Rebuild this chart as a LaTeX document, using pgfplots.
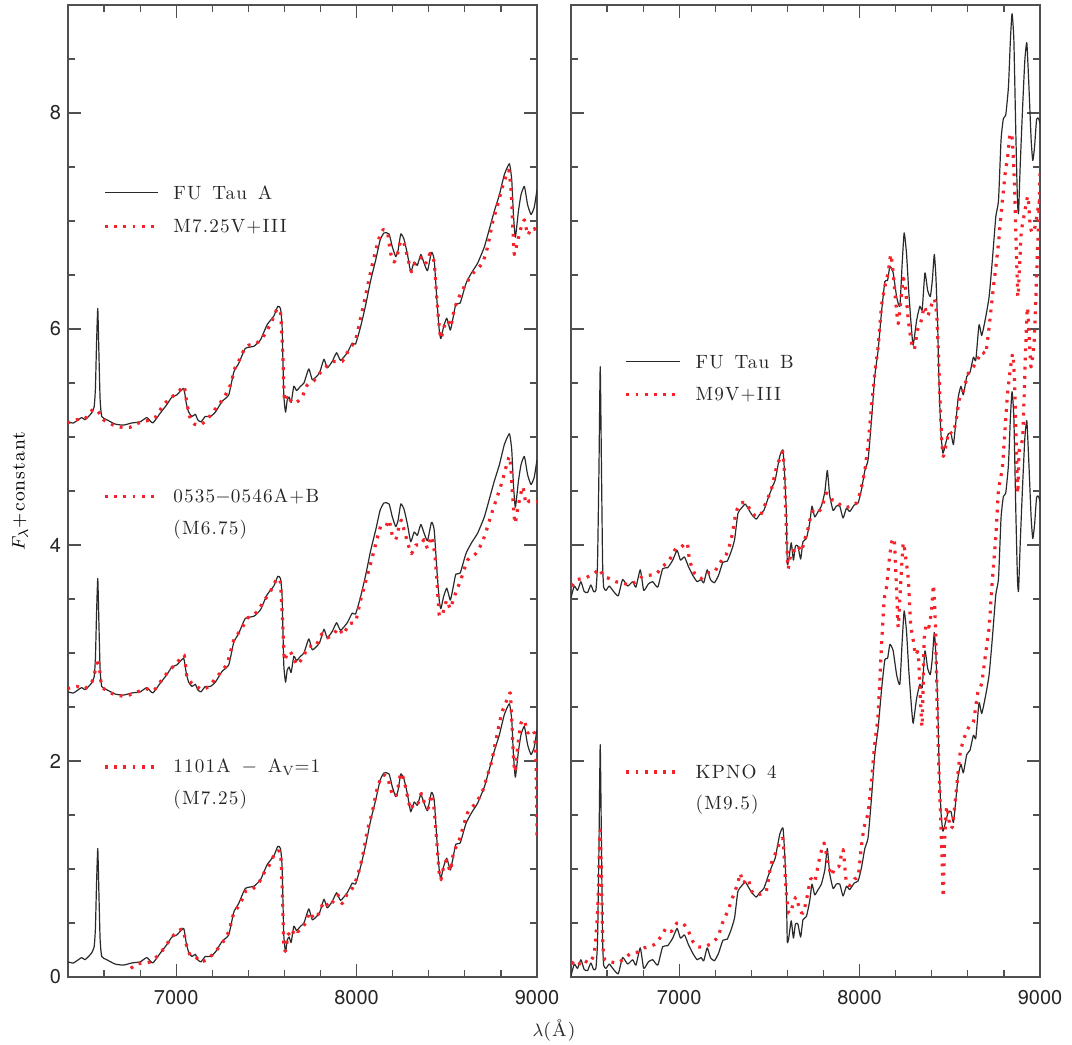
\documentclass[border=0pt]{standalone}
\usepackage{fontspec}
\usepackage{pgfplots}
\usepackage{pgfplotstable}
\pgfplotsset{compat=1.18}
\newfontfamily\tickfont{TeX Gyre Heros}
\newfontfamily\legfont[LetterSpace=6]{Latin Modern Roman}
\definecolor{spec}{HTML}{2A2A2A}
\definecolor{axc}{HTML}{505050}
\definecolor{mred}{HTML}{F5222A}

\pgfplotstableread{
lam f
6400 0.14
6430 0.13
6476 0.18
6494 0.16
6530 0.22
6545 0.28
6552 0.45
6558 0.85
6565 1.19
6571 0.80
6578 0.35
6587 0.19
6615 0.16
6661 0.12
6707 0.11
6754 0.13
6800 0.14
6837 0.18
6870 0.13
6911 0.22
6948 0.30
6976 0.37
7004 0.39
7041 0.45
7056 0.31
7069 0.23
7087 0.19
7106 0.21
7119 0.16
7137 0.14
7161 0.19
7189 0.19
7217 0.23
7254 0.33
7291 0.39
7319 0.60
7346 0.68
7383 0.82
7430 0.84
7467 0.90
7504 1.04
7541 1.12
7563 1.21
7578 1.19
7587 1.02
7596 0.40
7606 0.23
7615 0.34
7626 0.37
7637 0.32
7652 0.47
7667 0.43
7689 0.47
7708 0.50
7735 0.63
7754 0.53
7778 0.56
7796 0.60
7819 0.72
7837 0.64
7865 0.70
7889 0.78
7911 0.71
7948 0.78
7976 0.87
7994 0.86
8022 1.02
8050 1.22
8078 1.45
8106 1.64
8130 1.82
8152 1.89
8180 1.88
8198 1.76
8217 1.67
8230 1.73
8245 1.88
8263 1.83
8282 1.69
8300 1.53
8319 1.62
8337 1.59
8356 1.69
8374 1.61
8393 1.54
8415 1.71
8430 1.64
8445 1.27
8458 0.99
8467 0.91
8482 1.02
8500 1.10
8519 0.99
8532 1.08
8550 1.23
8574 1.24
8606 1.42
8637 1.52
8671 1.61
8708 1.76
8735 1.92
8763 2.09
8791 2.24
8819 2.43
8847 2.53
8860 2.38
8869 2.07
8880 1.85
8897 2.09
8911 2.24
8930 2.32
8948 2.15
8967 2.06
8985 2.13
9000 2.29
}\futauA

\pgfplotstableread{
lam f
6396 5.13
6448 5.16
6494 5.17
6541 5.26
6569 5.23
6596 5.16
6652 5.11
6698 5.09
6744 5.09
6791 5.13
6837 5.15
6883 5.18
6930 5.30
6976 5.37
7013 5.42
7044 5.47
7059 5.31
7078 5.17
7100 5.12
7133 5.11
7170 5.16
7217 5.26
7263 5.36
7300 5.48
7328 5.65
7356 5.73
7374 5.80
7402 5.85
7439 5.86
7467 5.90
7495 5.96
7532 6.08
7560 6.19
7578 6.15
7589 5.84
7600 5.34
7615 5.39
7633 5.34
7652 5.31
7674 5.33
7698 5.37
7726 5.48
7763 5.52
7800 5.60
7837 5.66
7874 5.70
7920 5.70
7958 5.81
7994 5.90
8022 6.10
8050 6.31
8078 6.53
8106 6.73
8130 6.87
8148 6.92
8170 6.90
8189 6.70
8208 6.62
8226 6.69
8245 6.82
8263 6.79
8282 6.67
8304 6.53
8322 6.61
8346 6.64
8365 6.67
8384 6.61
8408 6.70
8430 6.62
8445 6.27
8458 6.02
8467 5.91
8485 6.02
8504 6.08
8522 6.02
8541 6.18
8569 6.30
8606 6.42
8652 6.53
8698 6.61
8726 6.76
8754 6.99
8782 7.15
8809 7.32
8843 7.47
8856 7.29
8865 6.98
8874 6.69
8889 6.79
8908 6.92
8930 7.01
8948 6.87
8967 6.93
8985 6.92
9000 6.99
}\mseven

\pgfplotstableread{
lam f
6396 2.67
6448 2.69
6494 2.67
6532 2.73
6550 2.83
6565 2.95
6578 2.81
6587 2.69
6624 2.64
6670 2.61
6717 2.60
6772 2.63
6828 2.67
6874 2.65
6911 2.73
6957 2.83
7004 2.91
7044 2.98
7059 2.78
7087 2.72
7115 2.69
7143 2.66
7180 2.69
7226 2.78
7282 2.90
7319 3.12
7365 3.23
7393 3.32
7448 3.38
7485 3.48
7522 3.57
7559 3.69
7578 3.65
7591 3.24
7600 2.93
7615 3.00
7633 3.01
7652 2.95
7670 2.89
7698 2.95
7735 3.06
7772 3.06
7809 3.18
7837 3.14
7874 3.18
7902 3.23
7926 3.17
7958 3.27
7994 3.29
8022 3.49
8050 3.66
8078 3.83
8106 4.01
8133 4.17
8161 4.17
8180 4.23
8198 4.09
8217 4.05
8235 4.17
8248 4.23
8263 4.14
8285 4.01
8304 3.92
8328 4.00
8356 4.00
8374 4.05
8393 3.97
8415 4.08
8433 3.92
8445 3.68
8458 3.35
8476 3.36
8500 3.49
8519 3.41
8541 3.52
8578 3.68
8615 3.86
8661 3.92
8698 4.03
8726 4.17
8754 4.32
8782 4.46
8809 4.60
8828 4.72
8847 4.82
8856 4.69
8865 4.45
8878 4.20
8897 4.37
8921 4.54
8939 4.38
8958 4.41
8982 4.40
9000 4.40
}\mzero

\pgfplotstableread{
lam f
6748 0.08
6782 0.12
6819 0.13
6856 0.14
6893 0.19
6930 0.26
6967 0.35
7004 0.42
7037 0.44
7056 0.30
7078 0.20
7106 0.19
7133 0.14
7170 0.16
7208 0.22
7254 0.31
7291 0.42
7319 0.59
7356 0.68
7383 0.79
7420 0.81
7457 0.87
7495 0.99
7522 1.05
7550 1.16
7578 1.15
7587 0.84
7596 0.31
7606 0.24
7621 0.40
7637 0.37
7658 0.45
7674 0.42
7693 0.45
7717 0.50
7741 0.60
7763 0.54
7791 0.59
7819 0.70
7846 0.65
7874 0.71
7896 0.76
7920 0.68
7948 0.77
7976 0.82
8004 0.93
8032 1.11
8060 1.36
8087 1.53
8115 1.75
8143 1.87
8170 1.85
8198 1.69
8217 1.67
8230 1.76
8245 1.89
8263 1.82
8282 1.67
8300 1.55
8319 1.62
8341 1.61
8359 1.70
8378 1.60
8396 1.56
8415 1.69
8430 1.55
8445 1.24
8458 0.96
8467 0.90
8485 1.04
8500 1.08
8519 0.98
8537 1.15
8569 1.27
8615 1.52
8661 1.61
8698 1.72
8722 1.85
8748 1.99
8772 2.19
8804 2.44
8837 2.58
8852 2.63
8860 2.38
8869 2.04
8878 1.90
8893 2.13
8911 2.35
8930 2.38
8948 2.26
8971 2.29
8985 2.26
8995 1.98
9000 1.30
}\eleven

\pgfplotstableread{
lam f
6400 3.51
6418 3.62
6436 3.58
6455 3.66
6473 3.57
6492 3.56
6510 3.63
6525 3.57
6538 3.58
6547 3.83
6555 4.70
6562 5.65
6569 4.70
6575 3.85
6581 3.61
6594 3.58
6612 3.62
6636 3.57
6662 3.53
6686 3.68
6714 3.62
6742 3.66
6760 3.61
6784 3.77
6803 3.58
6829 3.64
6853 3.66
6881 3.61
6908 3.78
6936 3.79
6964 3.86
6988 3.95
7007 3.86
7029 3.89
7051 3.80
7075 3.72
7099 3.66
7121 3.68
7136 3.65
7155 3.77
7173 3.68
7195 3.65
7218 3.72
7242 3.84
7266 3.85
7288 3.94
7307 4.05
7325 4.29
7344 4.34
7366 4.38
7381 4.34
7403 4.28
7427 4.24
7445 4.28
7469 4.32
7492 4.43
7519 4.55
7532 4.60
7557 4.82
7575 4.88
7584 4.66
7594 4.29
7599 3.83
7607 3.86
7621 4.02
7633 3.86
7644 3.99
7658 3.99
7673 3.87
7686 4.03
7705 4.06
7723 4.20
7736 4.36
7751 4.26
7770 4.31
7788 4.36
7807 4.49
7821 4.69
7834 4.46
7853 4.32
7871 4.36
7890 4.36
7908 4.25
7927 4.34
7945 4.31
7970 4.37
7992 4.39
8010 4.51
8029 4.69
8047 4.79
8066 5.16
8084 5.56
8103 5.81
8121 6.15
8140 6.44
8155 6.45
8168 6.58
8186 6.52
8205 6.30
8223 6.21
8236 6.61
8247 6.89
8260 6.70
8273 6.33
8288 5.99
8297 5.85
8316 6.08
8334 6.21
8347 6.18
8362 6.52
8377 6.36
8392 6.30
8403 6.45
8414 6.69
8423 6.48
8433 6.02
8440 5.50
8451 5.03
8462 4.85
8477 4.94
8492 5.03
8507 5.03
8520 4.93
8533 5.13
8547 5.37
8562 5.47
8575 5.39
8594 5.56
8612 5.60
8631 5.74
8644 5.71
8662 6.04
8677 5.94
8699 6.11
8718 6.30
8736 6.64
8755 7.04
8770 7.19
8784 7.75
8797 7.95
8810 7.98
8825 8.24
8836 8.68
8845 8.92
8855 8.68
8866 7.81
8875 7.19
8881 7.07
8890 7.50
8903 8.03
8916 8.49
8927 8.65
8938 8.27
8951 7.75
8960 7.56
8970 7.69
8981 7.94
8992 7.95
9000 7.90
}\futauB

\pgfplotstableread{
lam f
6403 3.62
6436 3.68
6473 3.69
6510 3.72
6538 3.75
6556 3.78
6581 3.71
6612 3.69
6649 3.66
6686 3.65
6723 3.63
6760 3.66
6797 3.71
6834 3.72
6871 3.73
6908 3.80
6945 3.86
6982 3.97
7010 3.98
7044 4.02
7057 3.86
7084 3.74
7121 3.69
7158 3.74
7195 3.75
7223 3.83
7260 3.91
7288 4.05
7316 4.31
7344 4.39
7371 4.39
7395 4.32
7427 4.26
7455 4.29
7482 4.40
7510 4.51
7538 4.71
7562 4.82
7575 4.86
7584 4.63
7594 4.14
7603 3.78
7621 3.94
7640 3.95
7658 3.99
7677 3.94
7695 4.05
7714 4.15
7736 4.31
7760 4.29
7788 4.34
7816 4.48
7844 4.42
7871 4.41
7899 4.36
7927 4.35
7955 4.36
7983 4.39
8007 4.51
8029 4.69
8047 4.94
8066 5.28
8084 5.59
8103 5.84
8121 6.21
8140 6.39
8158 6.52
8173 6.69
8186 6.52
8199 6.27
8214 6.05
8229 6.27
8242 6.47
8255 6.36
8270 6.08
8288 5.87
8303 5.81
8321 5.99
8340 6.07
8359 6.21
8377 6.12
8396 6.21
8414 6.28
8427 6.14
8436 5.81
8446 5.34
8455 4.97
8464 4.82
8477 4.91
8496 5.05
8514 5.03
8533 5.13
8551 5.34
8575 5.43
8603 5.59
8631 5.65
8658 5.73
8681 5.79
8699 5.77
8718 6.02
8742 6.39
8766 6.73
8788 7.13
8807 7.44
8821 7.60
8834 7.81
8847 7.75
8859 7.32
8868 6.79
8877 6.30
8884 6.48
8896 6.89
8914 7.07
8933 7.23
8946 6.95
8958 6.89
8973 6.95
8983 7.05
8992 7.15
9000 7.20
}\mnine

\pgfplotstableread{
lam f
6403 0.14
6436 0.10
6464 0.16
6501 0.13
6529 0.22
6547 0.59
6558 1.21
6562 1.36
6569 0.90
6577 0.28
6588 0.16
6621 0.14
6658 0.13
6695 0.17
6732 0.22
6769 0.23
6806 0.27
6834 0.28
6871 0.31
6908 0.40
6927 0.45
6955 0.42
6988 0.50
7019 0.50
7047 0.44
7075 0.33
7103 0.28
7140 0.28
7177 0.31
7214 0.37
7242 0.51
7269 0.61
7297 0.74
7325 0.87
7338 0.96
7353 0.87
7381 0.91
7403 0.79
7427 0.76
7455 0.77
7482 0.79
7510 1.05
7538 1.16
7562 1.27
7575 1.28
7584 1.05
7594 0.77
7607 0.59
7621 0.62
7636 0.70
7649 0.74
7668 0.62
7686 0.59
7705 0.71
7729 0.91
7751 0.88
7779 1.11
7803 1.24
7825 1.05
7844 0.94
7862 1.01
7884 1.02
7908 1.18
7927 0.87
7951 0.85
7973 0.91
7992 0.93
8010 1.21
8025 1.39
8047 1.52
8066 1.82
8084 2.16
8103 2.44
8121 3.06
8136 3.49
8149 3.61
8162 3.83
8177 4.02
8192 4.05
8205 3.58
8214 3.24
8229 3.68
8242 4.02
8255 3.89
8270 3.68
8283 3.27
8297 3.12
8310 2.98
8325 3.00
8340 2.47
8347 2.33
8358 3.12
8371 3.27
8384 3.24
8399 3.40
8410 3.63
8421 3.21
8433 2.29
8442 1.82
8451 1.39
8458 1.05
8464 0.74
8470 1.21
8483 1.58
8501 1.39
8514 1.39
8533 1.67
8557 2.07
8581 2.22
8607 2.32
8631 2.36
8655 2.63
8677 2.72
8699 3.00
8718 3.24
8736 3.68
8755 4.08
8770 4.51
8792 4.73
8820 5.40
8848 5.77
8858 5.55
8867 5.03
8876 4.48
8885 4.88
8904 5.00
8920 5.80
8931 6.20
8950 5.65
8968 5.90
8983 6.58
8996 7.19
9000 7.44
}\kpno

\tikzset{
  blk/.style={spec, line width=0.6pt, line join=round},
  rdot/.style={mred, line width=1.6pt, line join=round, line cap=butt, dash pattern=on 1.4pt off 3.2pt},
}
\pgfplotsset{
  panel/.style={
    scale only axis, width=234.5pt, height=486pt,
    xmin=6400, xmax=9000, ymin=0, ymax=9,
    no markers,
    every axis plot/.append style={smooth, tension=0.3},
    xtick={7000,8000,9000},
    minor xtick={6600,6800,7200,7400,7600,7800,8200,8400,8600,8800},
    ytick={0,2,4,6,8},
    minor ytick={0.5,1,1.5,2.5,3,3.5,4.5,5,5.5,6.5,7,7.5,8.5},
    major tick length=6.5pt, minor tick length=3.5pt,
    tick align=inside,
    every tick/.style={axc, line width=0.6pt},
    axis line style={axc, line width=0.8pt},
    tick label style={font=\tickfont\fontsize{10}{12}\selectfont, text=black!85},
    /pgf/number format/assume math mode=true,
    /pgf/number format/1000 sep={},
    xticklabel style={yshift=-3pt},
    clip=true,
  },
}

\begin{document}
\begin{tikzpicture}
\useasboundingbox (-34pt,-34pt) rectangle (502pt,488.5pt);
\begin{axis}[panel,
  ylabel={$F_\lambda$+constant},
  ylabel style={at={(axis description cs:-0.102,0.5)}, anchor=center, font=\legfont\fontsize{9.5}{11}\selectfont},
]
\addplot[blk] table[x=lam, y expr=\thisrow{f}+5] {\futauA};
\addplot[blk] table[x=lam, y expr=\thisrow{f}+2.5] {\futauA};
\addplot[blk] table[x=lam, y=f] {\futauA};
\addplot[rdot] table[x=lam, y=f] {\mseven};
\addplot[rdot] table[x=lam, y=f] {\mzero};
\addplot[rdot] table[x=lam, y=f] {\eleven};
\draw[blk] (rel axis cs:0.079,0.807) -- (rel axis cs:0.192,0.807);
\draw[rdot] (rel axis cs:0.079,0.772) -- (rel axis cs:0.192,0.772);
\draw[rdot] (rel axis cs:0.079,0.494) -- (rel axis cs:0.192,0.494);
\draw[rdot] (rel axis cs:0.079,0.216) -- (rel axis cs:0.192,0.216);
\begin{scope}[every node/.style={anchor=west, inner xsep=0pt, font=\legfont\fontsize{9.6}{11}\selectfont, text=black!85}]
\node at (rel axis cs:0.224,0.807) {FU\, Tau\, A};
\node at (rel axis cs:0.224,0.772) {M7.25V+III};
\node at (rel axis cs:0.224,0.494) {0535$-$0546A+B};
\node at (rel axis cs:0.224,0.460) {(M6.75)};
\node at (rel axis cs:0.224,0.216) {1101A\, $-$\, A\textsubscript{V}=1};
\node at (rel axis cs:0.224,0.182) {(M7.25)};
\end{scope}
\end{axis}
\begin{axis}[panel, xshift=251.5pt, yticklabels={}]
\addplot[blk] table[x=lam, y=f] {\futauB};
\addplot[blk] table[x=lam, y expr=\thisrow{f}-3.5] {\futauB};
\addplot[rdot] table[x=lam, y=f] {\mnine};
\addplot[rdot] table[x=lam, y=f] {\kpno};
\draw[blk] (rel axis cs:0.118,0.633) -- (rel axis cs:0.233,0.633);
\draw[rdot] (rel axis cs:0.118,0.599) -- (rel axis cs:0.233,0.599);
\draw[rdot] (rel axis cs:0.118,0.211) -- (rel axis cs:0.233,0.211);
\begin{scope}[every node/.style={anchor=west, inner xsep=0pt, font=\legfont\fontsize{9.6}{11}\selectfont, text=black!85}]
\node at (rel axis cs:0.265,0.633) {FU\, Tau\, B};
\node at (rel axis cs:0.265,0.599) {M9V+III};
\node at (rel axis cs:0.265,0.211) {KPNO\, 4};
\node at (rel axis cs:0.265,0.177) {(M9.5)};
\end{scope}
\end{axis}
\node[font=\legfont\fontsize{9.5}{11}\selectfont, text=black!85] at (243pt,-26.5pt) {$\lambda$(Å)};
\end{tikzpicture}
\end{document}
